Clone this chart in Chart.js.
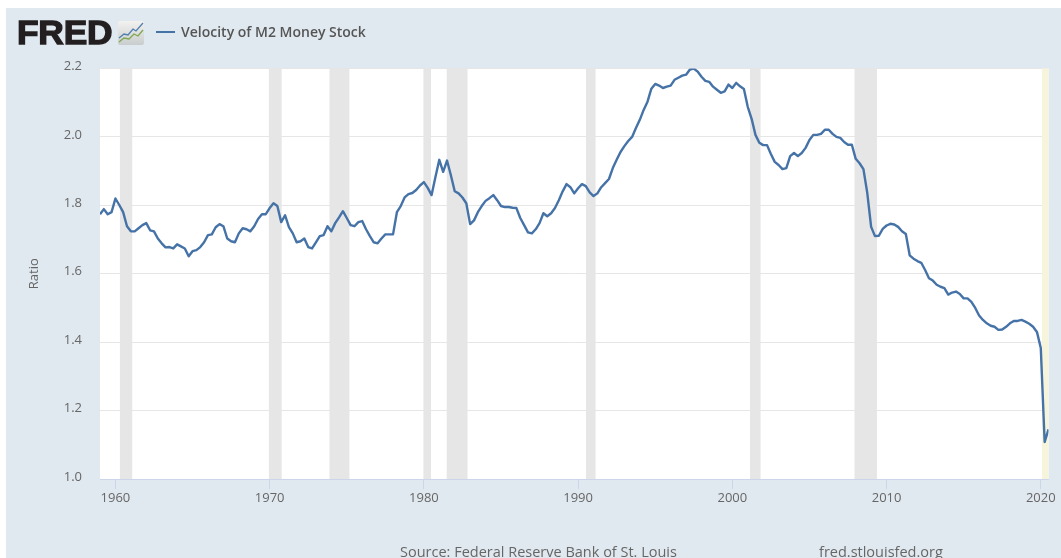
<!DOCTYPE html>
<html>
<head>
<meta charset="utf-8">
<script src="https://cdn.jsdelivr.net/npm/chart.js@4"></script>
<style>
html,body{margin:0;padding:0;background:#fff;overflow:hidden}
#panel{position:absolute;left:6px;top:8px;width:1055px;height:550px;background:#e1e9f0;overflow:hidden}
canvas{position:absolute;left:0;top:0}
.t{position:absolute;white-space:nowrap;font-family:"Open Sans",sans-serif}
#logo{left:11px;top:6px;font-family:"Liberation Sans",sans-serif;font-weight:700;font-size:33px;line-height:38px;color:#231f20;-webkit-text-stroke:1.3px #231f20;letter-spacing:-.2px;transform:scaleX(1.07);transform-origin:0 0}
#icon{position:absolute;left:112px;top:13px}
#swatch{position:absolute;left:150px;top:23px;width:19px;height:2px;background:#4572a7}
#legend{left:175px;top:14px;font-size:14px;line-height:20px;font-weight:600;color:#555}
#source{left:394px;top:534px;font-size:14.5px;line-height:20px;color:#666}
#site{left:813px;top:534px;font-size:14.5px;line-height:20px;color:#666}
</style>
</head>
<body>
<div id="panel">
<canvas id="c" width="1055" height="550"></canvas>
<div class="t" id="logo">FRED</div>
<svg id="icon" width="27" height="24" viewBox="0 0 27 24">
<defs><linearGradient id="g" x1="0" y1="0" x2="0" y2="1"><stop offset="0" stop-color="#f2f2f0"/><stop offset="1" stop-color="#c9cdcd"/></linearGradient></defs>
<rect x="0" y="0" width="26" height="24" rx="2" fill="url(#g)"/>
<polyline points="1,17 6,13 10,14 15,8 18,10 25,2" fill="none" stroke="#4f7fae" stroke-width="1.3"/>
<polyline points="1,21 6,17 11,18 16,13 20,15 25,9" fill="none" stroke="#7fa650" stroke-width="1.3"/>
</svg>
<div id="swatch"></div>
<div class="t" id="legend">Velocity of M2 Money Stock</div>
<div class="t" id="source">Source: Federal Reserve Bank of St. Louis</div>
<div class="t" id="site">fred.stlouisfed.org</div>
</div>
<script>
const startYear = 1959;
const seriesName = "Velocity of M2 Money Stock";
const yAxisTitle = "Ratio";
const xTickYears = [1960, 1970, 1980, 1990, 2000, 2010, 2020];
const yTickValues = [1.0, 1.2, 1.4, 1.6, 1.8, 2.0, 2.2];

// quarterly values, one row per year
const velocity = [
1.774,1.789,1.774,1.780,
1.820,1.801,1.780,1.739,
1.724,1.724,1.733,1.742,
1.748,1.727,1.724,1.703,
1.689,1.677,1.678,1.674,
1.686,1.680,1.674,1.651,
1.666,1.669,1.678,1.692,
1.713,1.715,1.736,1.745,
1.739,1.703,1.695,1.692,
1.718,1.733,1.730,1.724,
1.739,1.760,1.774,1.774,
1.792,1.806,1.798,1.751,
1.771,1.736,1.718,1.692,
1.695,1.703,1.678,1.674,
1.692,1.710,1.713,1.739,
1.724,1.748,1.765,1.783,
1.763,1.742,1.739,1.751,
1.754,1.730,1.710,1.692,
1.689,1.703,1.715,1.715,
1.715,1.780,1.798,1.823,
1.833,1.836,1.845,1.858,
1.868,1.851,1.830,1.883,
1.933,1.898,1.931,1.888,
1.841,1.835,1.823,1.806,
1.745,1.756,1.780,1.798,
1.813,1.821,1.830,1.815,
1.798,1.795,1.795,1.793,
1.792,1.763,1.742,1.721,
1.718,1.730,1.748,1.777,
1.768,1.777,1.792,1.815,
1.841,1.862,1.853,1.835,
1.850,1.862,1.856,1.838,
1.827,1.835,1.853,1.865,
1.877,1.909,1.933,1.956,
1.973,1.988,2.000,2.026,
2.050,2.079,2.103,2.141,
2.155,2.150,2.143,2.147,
2.150,2.167,2.173,2.179,
2.182,2.197,2.200,2.191,
2.176,2.164,2.161,2.147,
2.138,2.129,2.133,2.153,
2.143,2.158,2.148,2.140,
2.088,2.053,2.006,1.983,
1.976,1.976,1.950,1.927,
1.918,1.906,1.909,1.944,
1.953,1.944,1.953,1.968,
1.991,2.006,2.006,2.009,
2.021,2.021,2.009,2.000,
1.997,1.985,1.977,1.977,
1.936,1.923,1.906,1.836,
1.737,1.710,1.711,1.731,
1.741,1.746,1.744,1.737,
1.724,1.716,1.654,1.644,
1.637,1.632,1.611,1.587,
1.580,1.568,1.562,1.558,
1.539,1.545,1.548,1.541,
1.528,1.528,1.518,1.500,
1.478,1.465,1.455,1.448,
1.445,1.436,1.437,1.445,
1.455,1.462,1.462,1.465,
1.460,1.454,1.445,1.430,
1.383,1.108,1.145
];

const recessionStart = [1960.29, 1969.95, 1973.88, 1979.97, 1981.48, 1990.51, 2001.15, 2007.92];
const recessionEnd   = [1961.09, 1970.78, 1975.17, 1980.46, 1982.83, 1991.13, 2001.83, 2009.38];
const covidStart = 2020.08;
const covidEnd = 2020.5;

const points = velocity.map((v, i) => ({x: startYear + i / 4, y: v}));

const bands = {
  id: 'bands',
  beforeDraw(chart) {
    const {ctx, chartArea: a} = chart;
    ctx.save();
    ctx.fillStyle = '#ffffff';
    ctx.fillRect(a.left, a.top, a.right - a.left, a.bottom - a.top);
    ctx.restore();
  },
  beforeDatasetsDraw(chart) {
    const {ctx, chartArea: a, scales: {x}} = chart;
    ctx.save();
    ctx.fillStyle = '#e6e6e6';
    recessionStart.forEach((s, i) => {
      const l = x.getPixelForValue(s), r = x.getPixelForValue(recessionEnd[i]);
      ctx.fillRect(l, a.top, r - l, a.bottom - a.top);
    });
    ctx.fillStyle = '#f6f5dc';
    const l = x.getPixelForValue(covidStart), r = x.getPixelForValue(covidEnd);
    ctx.fillRect(l, a.top, r - l, a.bottom - a.top);
    ctx.restore();
  }
};

const tickFont = {family: '"Open Sans", sans-serif', size: 13};

new Chart(document.getElementById('c'), {
  type: 'line',
  plugins: [bands],
  data: {datasets: [{
    label: seriesName, data: points, parsing: false,
    borderColor: '#4572a7', borderWidth: 2.4, pointRadius: 0,
    tension: 0, fill: false, borderJoinStyle: 'round'
  }]},
  options: {
    responsive: false, animation: false,
    layout: {padding: {top: 60.5, right: 12.5, left: 0, bottom: 0}},
    plugins: {legend: {display: false}, tooltip: {enabled: false}},
    scales: {
      x: {
        type: 'linear', min: 1959, max: 2020.5,
        afterBuildTicks(s) { s.ticks = xTickYears.map(v => ({value: v})); },
        afterFit(s) { s.height = 79; s.paddingLeft = 0; s.paddingRight = 0; },
        grid: {drawOnChartArea: false, color: '#ccd6eb', tickLength: 10, tickColor: '#ccd6eb'},
        border: {color: '#ccd6eb'},
        ticks: {color: '#666', font: tickFont, padding: 1, maxRotation: 0, autoSkip: false,
                callback: v => String(v)}
      },
      y: {
        min: 1.0, max: 2.2,
        afterBuildTicks(s) { s.ticks = yTickValues.map(v => ({value: v})); },
        afterFit(s) {
          s.width = 94; s.paddingTop = 0; s.paddingBottom = 0;
          if (!s._raised) {
            s._raised = true;
            const orig = s._computeLabelItems;
            s._computeLabelItems = function (ca) {
              const items = orig.call(this, ca);
              items.forEach(it => { it.options.translation[1] -= 2; });
              return items;
            };
          }
        },
        grid: {color: '#e6e6e6', drawTicks: false, lineWidth: 1},
        border: {display: false},
        title: {display: true, text: yAxisTitle, color: '#666', font: tickFont, padding: {top: 20, bottom: 0}},
        ticks: {color: '#666', font: tickFont, padding: 18, callback: v => v.toFixed(1)}
      }
    }
  }
});
</script>
</body>
</html>
